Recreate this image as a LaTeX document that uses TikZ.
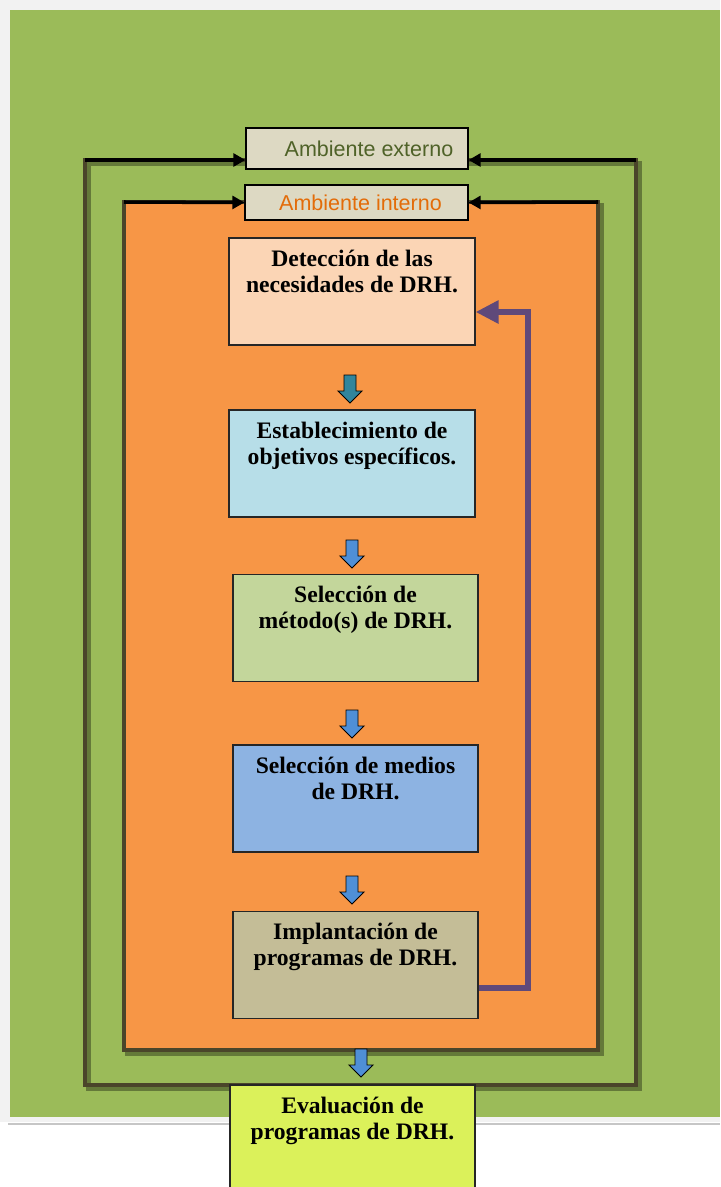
\documentclass[tikz,border=0pt]{standalone}
\usepackage{fontspec}
\setmainfont{Liberation Serif}
\setsansfont{Liberation Sans}
\usetikzlibrary{arrows.meta, positioning, calc}

\definecolor{bggreen}{HTML}{9BBB59}
\definecolor{framecol}{HTML}{4A452A}
\definecolor{orangebg}{HTML}{F79646}
\definecolor{envfill}{HTML}{DDD9C3}
\definecolor{extcol}{HTML}{4F6228}
\definecolor{intcol}{HTML}{E36C09}
\definecolor{detfill}{HTML}{FBD5B5}
\definecolor{estfill}{HTML}{B7DEE8}
\definecolor{metfill}{HTML}{C3D69B}
\definecolor{medfill}{HTML}{8DB3E2}
\definecolor{impfill}{HTML}{C4BD97}
\definecolor{evafill}{HTML}{DBF15A}
\definecolor{fbcol}{HTML}{5F497A}
\definecolor{tealarr}{HTML}{31859C}
\definecolor{bluearr}{HTML}{4F8FD6}

\begin{document}
\begin{tikzpicture}[
    frame/.style={draw=framecol, line width=3.5pt},
    frameshadow/.style={draw=black, opacity=0.35, line width=3.5pt},
    envbox/.style={rectangle, draw=black, fill=envfill, line width=0.8pt, font=\sffamily\fontsize{15.3}{18}\selectfont},
    proc/.style={rectangle, draw=black!85, line width=0.8pt, minimum width=6.15cm, minimum height=2.675cm},
    proctext/.style={inner sep=0pt, align=center, font=\bfseries\fontsize{16.8}{18.6}\selectfont},
    envarrow/.style={draw=black, line width=2.5pt, -{Triangle[length=0.3cm, width=0.32cm]}},
    feedback/.style={draw=fbcol, line width=4.3pt, -{Triangle[length=0.575cm, width=0.55cm]}},
    downarr/.style={draw=black, line width=0.6pt}
]
    \clip (0,0) rectangle (18,-29.675);

    % Background
    \fill[white] (0,0) rectangle (18,-29.675);
    \fill[gray!10] (0,0) rectangle (18,-28.05);
    \fill[gray!45] (0.2,-28.07) rectangle (18,-28.13);
    \fill[bggreen] (0.25,-0.25) rectangle (18,-27.93);

    % Frames
    \coordinate (eTL) at (2.125,-4.0);
    \coordinate (eBR) at (15.9,-27.125);
    \coordinate (iTL) at (3.1,-5.05);
    \coordinate (iBR) at (14.95,-26.25);
    \draw[frameshadow] ($(eTL)+(0.08,-0.08)$) rectangle ($(eBR)+(0.08,-0.08)$);
    \draw[frame] (eTL) rectangle (eBR);
    \draw[frameshadow] ($(iTL)+(0.08,-0.08)$) rectangle ($(iBR)+(0.08,-0.1)$);
    \draw[frame, fill=orangebg] (iTL) rectangle (iBR);

    % Environment boxes
    \node[envbox, minimum width=5.55cm, minimum height=1.025cm, text=extcol] (ext) at (8.925,-3.7125) {\hspace{0.6cm}Ambiente externo};
    \node[envbox, minimum width=5.575cm, minimum height=0.875cm, text=intcol] (int) at (8.9125,-5.0625) {\hspace{0.2cm}Ambiente interno};

    % Process boxes
    \node[proc, fill=detfill] (det) at (8.8,-7.2875) {};
    \node[proc, fill=estfill] (est) at (8.8,-11.5875) {};
    \node[proc, fill=metfill, minimum width=6.125cm] (met) at (8.8875,-15.7) {};
    \node[proc, fill=medfill, minimum width=6.125cm] (med) at (8.8875,-19.9625) {};
    \node[proc, fill=impfill, minimum width=6.125cm] (imp) at (8.8875,-24.125) {};
    \node[proc, fill=evafill, minimum width=6.125cm] (eva) at (8.8125,-28.4625) {};

    % Box texts
    \node[proctext, below=0.3cm of det.north] (detT) {Detección de las\\necesidades de DRH.};
    \node[proctext, below=0.3cm of est.north] (estT) {Establecimiento de\\objetivos específicos.};
    \node[proctext, below=0.3cm of met.north] (metT) {Selección de\\método(s) de DRH.};
    \node[proctext, below=0.3cm of med.north] (medT) {Selección de medios\\de DRH.};
    \node[proctext, below=0.3cm of imp.north] (impT) {Implantación de\\programas de DRH.};
    \node[proctext, below=0.3cm of eva.north] (evaT) {Evaluación de\\programas de DRH.};

    % Small down arrows
    \foreach \x/\y/\c in {8.75/-9.375/tealarr, 8.8/-13.5/bluearr, 8.8/-17.75/bluearr, 8.8/-21.9/bluearr, 9.025/-26.225/bluearr}
        \draw[downarr, fill=\c] (\x,\y) ++(-0.15,0) -- ++(0.3,0) -- ++(0,-0.4) -- ++(0.15,0)
            -- ++(-0.3,-0.3) -- ++(-0.3,0.3) -- ++(0.15,0) -- cycle;

    % Edges
    \draw[envarrow] (eTL) -- (eTL -| ext.west);
    \draw[envarrow] (eTL -| eBR) -- (eTL -| ext.east);
    \draw[envarrow] (iTL) -- (int.west);
    \draw[envarrow] (iTL -| iBR) -- (int.east);

    % Feedback
    \draw[feedback] ([yshift=-0.575cm]imp.east) -- ++(1.225,0) |- ([yshift=-0.5125cm]det.east);
\end{tikzpicture}
\end{document}
